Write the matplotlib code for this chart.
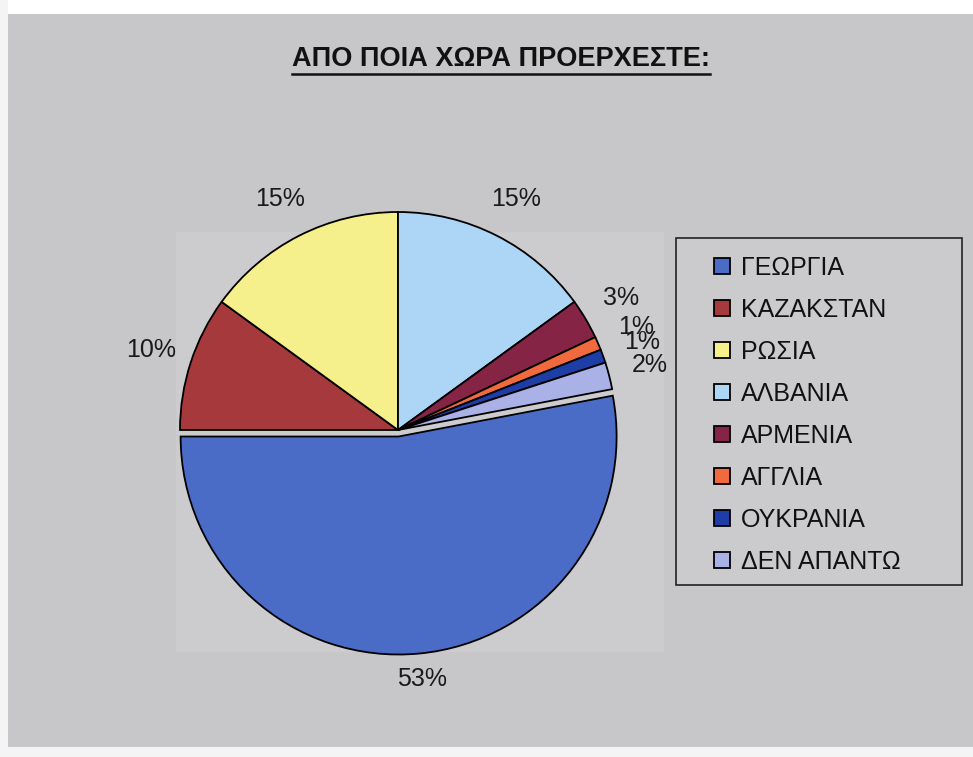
import matplotlib.pyplot as plt
from matplotlib.patches import Rectangle
from matplotlib.lines import Line2D

plt.rcParams['font.family'] = ['Liberation Sans', 'DejaVu Sans']

countries = ['ΓΕΩΡΓΙΑ', 'ΚΑΖΑΚΣΤΑΝ', 'ΡΩΣΙΑ', 'ΑΛΒΑΝΙΑ',
             'ΑΡΜΕΝΙΑ', 'ΑΓΓΛΙΑ', 'ΟΥΚΡΑΝΙΑ', 'ΔΕΝ ΑΠΑΝΤΩ']
shares = [53, 10, 15, 15, 3, 1, 1, 2]
colors = ['#4a6bc6', '#a6393b', '#f6f08c', '#acd5f6',
          '#852445', '#f06a3e', '#1c3ea6', '#a9b1e6']
title = 'ΑΠΟ ΠΟΙΑ ΧΩΡΑ ΠΡΟΕΡΧΕΣΤΕ:'

W, H = 973, 757
fig = plt.figure(figsize=(W / 100, H / 100), dpi=100, facecolor='#c7c7c9')


def px_rect(x0, y0, x1, y1, **kw):
    # rectangle given in picture pixels (top-left origin)
    fig.patches.append(Rectangle((x0 / W, 1 - y1 / H), (x1 - x0) / W, (y1 - y0) / H,
                                 transform=fig.transFigure, zorder=-10, **kw))


# white scan borders and lighter plot area
px_rect(0, 0, W, 14, facecolor='white', edgecolor='none')
px_rect(0, 0, 8, H, facecolor='#f4f4f4', edgecolor='none')
px_rect(0, H - 10, W, H, facecolor='#f4f4f4', edgecolor='none')
px_rect(176, 232, 664, 652, facecolor='#cccccf', edgecolor='none')

cx, cy, r = 398, 430, 218
half = 300
ax = fig.add_axes([(cx - half) / W, (H - cy - half) / H, 2 * half / W, 2 * half / H])
ax.set_zorder(1)

explode = [0.03, 0, 0, 0, 0, 0, 0, 0]
wedges, texts, autotexts = ax.pie(
    shares, colors=colors, explode=explode, startangle=90 - 0.22 * 360,
    counterclock=False, autopct='%1.0f%%', pctdistance=1.19,
    wedgeprops=dict(edgecolor='black', linewidth=1.3),
    textprops=dict(fontsize=18, color='#1a1a1a'))
ax.set_xlim(-half / r, half / r)
ax.set_ylim(-half / r, half / r)
ax.set_aspect('equal')
ax.axis('off')

# biggest slice label sits a little closer to the pie
x, y = autotexts[0].get_position()
autotexts[0].set_position((x * 1.12 / 1.19, y * 1.12 / 1.19))

fig.text(501 / W, 1 - 59 / H, title, ha='center', va='center',
         fontsize=19.5, fontweight='bold', color='#111111')
fig.add_artist(Line2D([292 / W, 710 / W], [1 - 74 / H, 1 - 74 / H],
                      color='#111111', linewidth=1.8))

# legend frame
px_rect(676, 238, 962, 585, facecolor='#cbcbcd', edgecolor='#222222', linewidth=1.2)
leg = fig.legend(wedges, countries, loc='upper left',
                 bbox_to_anchor=(714 / W, 1 - 256 / H), fontsize=18,
                 frameon=False, handlelength=0.64, handleheight=0.64,
                 handletextpad=0.45, labelspacing=0.72,
                 borderpad=0, borderaxespad=0)
for t in leg.get_texts():
    t.set_color('#111111')

fig.savefig('out.png', dpi=100, facecolor=fig.get_facecolor())
